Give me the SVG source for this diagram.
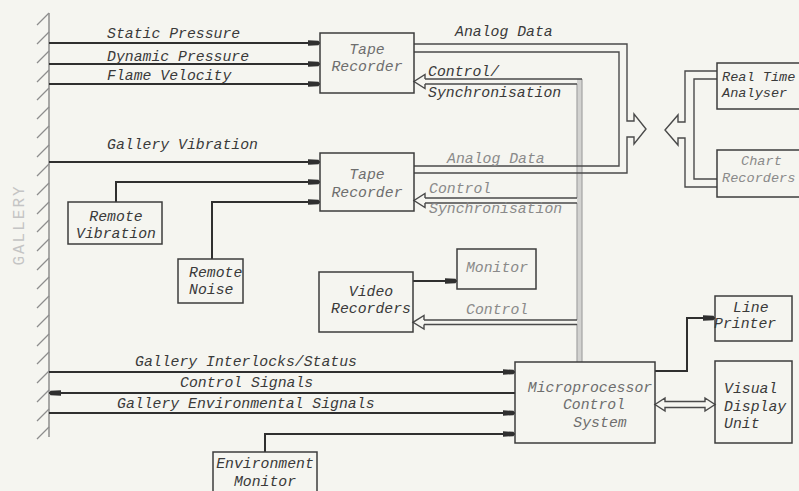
<svg xmlns="http://www.w3.org/2000/svg" width="799" height="491" viewBox="0 0 799 491">
<defs>
<marker id="fa" markerUnits="userSpaceOnUse" markerWidth="13" markerHeight="8" refX="12" refY="4" orient="auto">
<path d="M0,1.3 L10.5,1.8 L12,4 L10.5,6.2 L0,6.7 Z" fill="#2f2f2f"/>
</marker>
</defs>
<style>
text{font-family:"Liberation Mono","Courier New",monospace;font-style:italic;font-size:14.8px;fill:#3a3a3a}
.f{fill:#6e6e6e}
.ff{fill:#8a8a8a}
.m{text-anchor:middle}
.s{font-size:13.6px}
.box{fill:none;stroke:#3c3c3c;stroke-width:1.5}
.sig{fill:none;stroke:#2f2f2f;stroke-width:2}
.dbl{fill:none;stroke:#4a4a4a;stroke-width:1.4}
.head{fill:#f5f5f0;stroke:#4a4a4a;stroke-width:1.4;stroke-linejoin:miter}
.hatch{stroke:#8d8d8d;stroke-width:1.3}
</style>
<rect x="0" y="0" width="799" height="491" fill="#f5f5f0"/>

<g id="gallery">
<line x1="49" y1="13" x2="49" y2="437" stroke="#8d8d8d" stroke-width="1.5"/>
<path class="hatch" d="M49,13 l-12,12 M49,32 l-12,12 M49,51 l-12,12 M49,70 l-12,12 M49,88 l-12,12 M49,107 l-12,12 M49,126 l-12,12 M49,145 l-12,12 M49,164 l-12,12 M49,183 l-12,12 M49,202 l-12,12 M49,220 l-12,12 M49,239 l-12,12 M49,258 l-12,12 M49,277 l-12,12 M49,296 l-12,12 M49,315 l-12,12 M49,334 l-12,12 M49,352 l-12,12 M49,371 l-12,12 M49,390 l-12,12 M49,409 l-12,12 M49,427 l-12,12"/>
<text transform="translate(24,225) rotate(-90)" class="m" style="font-style:normal;font-size:16px;letter-spacing:2px;fill:#c4c4c4">GALLERY</text>
</g>

<g id="connectors">
<!-- inputs to tape recorder 1 -->
<line class="sig" x1="49" y1="43" x2="320" y2="43" marker-end="url(#fa)"/>
<line class="sig" x1="49" y1="64" x2="320" y2="64" marker-end="url(#fa)"/>
<line class="sig" x1="49" y1="84" x2="320" y2="84" marker-end="url(#fa)"/>
<!-- inputs to tape recorder 2 -->
<line class="sig" x1="49" y1="162" x2="320" y2="162" marker-end="url(#fa)"/>
<polyline class="sig" points="116,202 116,182 320,182" marker-end="url(#fa)"/>
<polyline class="sig" points="212,259 212,202 320,202" marker-end="url(#fa)"/>
<!-- video to monitor -->
<line class="sig" x1="413" y1="281" x2="457" y2="281" marker-end="url(#fa)"/>
<!-- gallery lines to/from micro -->
<line class="sig" x1="49" y1="372" x2="515" y2="372" marker-end="url(#fa)"/>
<line class="sig" x1="515" y1="393" x2="49" y2="393" marker-end="url(#fa)"/>
<line class="sig" x1="49" y1="413" x2="515" y2="413" marker-end="url(#fa)"/>
<polyline class="sig" points="265,452 265,434 515,434" marker-end="url(#fa)"/>
<!-- micro to line printer -->
<polyline class="sig" points="655,371 687,371 687,318 715,318" marker-end="url(#fa)"/>

<!-- grey control bus -->
<rect x="577" y="79" width="5" height="283" fill="#d2d2d0"/>
<line x1="582" y1="79" x2="582" y2="362" stroke="#a3a3a3" stroke-width="1.2"/>
<path d="M577,84 V198 M577,203 V320 M577,324 V362" stroke="#a3a3a3" stroke-width="1.2" fill="none"/>
<!-- control to TR1 -->
<path class="dbl" d="M425,79 H582 M425,84 H577"/>
<path class="head" d="M425,79 V74.5 L414,81.5 L425,88.5 V84"/>
<!-- control to TR2 -->
<path class="dbl" d="M425,198 H577 M425,203 H577" stroke="#6a6a6a"/>
<path class="head" d="M425,198 V193.5 L414,200.5 L425,207.5 V203"/>
<!-- control to video -->
<path class="dbl" d="M424,320 H577 M424,324.5 H577"/>
<path class="head" d="M424,320 V315.5 L413,322.3 L424,329 V324.5"/>

<!-- analog data bus -->
<path class="dbl" d="M414,44 H627 V121 H634 V114 L646,129 L634,144 V137 H627 V173 H414"/>
<path class="dbl" d="M414,52 H619 V166 H414"/>
<!-- analyser bus -->
<path class="dbl" d="M717,71 H685 V122 H678 V115 L665,130 L678,145 V138 H685 V187 H717"/>
<path class="dbl" d="M717,79 H694 V179 H717"/>

<!-- micro <-> VDU -->
<path class="head" d="M665,401.5 V398 L655,404.5 L665,411 V407.5 H705 V411 L715,404.5 L705,398 V401.5 Z"/>
</g>

<g id="labels">
<text x="107" y="38">Static Pressure</text>
<text x="107" y="61">Dynamic Pressure</text>
<text x="107" y="80">Flame Velocity</text>
<text x="107" y="149">Gallery Vibration</text>
<text x="455" y="36">Analog Data</text>
<text x="428" y="76">Control/</text>
<text x="428" y="97">Synchronisation</text>
<text x="447" y="163" class="ff">Analog Data</text>
<text x="429" y="193" class="ff">Control</text>
<text x="429" y="213" class="ff">Synchronisation</text>
<text x="466" y="314" class="ff">Control</text>
<text x="135" y="366">Gallery Interlocks/Status</text>
<text x="180" y="387">Control Signals</text>
<text x="117" y="408">Gallery Environmental Signals</text>
</g>

<g id="tape1">
<rect class="box" x="320" y="33" width="94" height="60"/>
<text x="367" y="54" class="m f">Tape</text>
<text x="367" y="71" class="m f">Recorder</text>
</g>
<g id="tape2">
<rect class="box" x="320" y="153" width="94" height="58"/>
<text x="367" y="179" class="m f">Tape</text>
<text x="367" y="197" class="m f">Recorder</text>
</g>
<g id="remote-vibration">
<rect class="box" x="68" y="202" width="94" height="42"/>
<text x="116" y="221" class="m">Remote</text>
<text x="116" y="238" class="m">Vibration</text>
</g>
<g id="remote-noise">
<rect class="box" x="178" y="259" width="65" height="44"/>
<text x="189" y="277">Remote</text>
<text x="189" y="294">Noise</text>
</g>
<g id="video-recorders">
<rect class="box" x="319" y="272" width="94" height="60"/>
<text x="371" y="296" class="m">Video</text>
<text x="371" y="313" class="m">Recorders</text>
</g>
<g id="monitor">
<rect class="box" x="457" y="249" width="79" height="40" stroke="#777"/>
<text x="497" y="272" class="m ff">Monitor</text>
</g>
<g id="real-time-analyser">
<rect class="box" x="717" y="63" width="95" height="46"/>
<text x="722" y="81" class="s">Real Time</text>
<text x="722" y="97" class="s">Analyser</text>
</g>
<g id="chart-recorders">
<rect class="box" x="717" y="150" width="95" height="47"/>
<text x="741" y="165" class="ff s">Chart</text>
<text x="722" y="182" class="ff s">Recorders</text>
</g>
<g id="microprocessor">
<rect class="box" x="515" y="362" width="140" height="81"/>
<text x="590" y="392" class="m f">Microprocessor</text>
<text x="594" y="409" class="m f">Control</text>
<text x="600" y="427" class="m f">System</text>
</g>
<g id="line-printer">
<rect class="box" x="715" y="296" width="77" height="45"/>
<text x="733" y="312">Line</text>
<text x="714" y="328">Printer</text>
</g>
<g id="vdu">
<rect class="box" x="715" y="361" width="77" height="82"/>
<text x="724" y="393">Visual</text>
<text x="724" y="411">Display</text>
<text x="724" y="428">Unit</text>
</g>
<g id="environment-monitor">
<rect class="box" x="213" y="452" width="104" height="45"/>
<text x="265" y="468" class="m">Environment</text>
<text x="265" y="486" class="m">Monitor</text>
</g>
</svg>
